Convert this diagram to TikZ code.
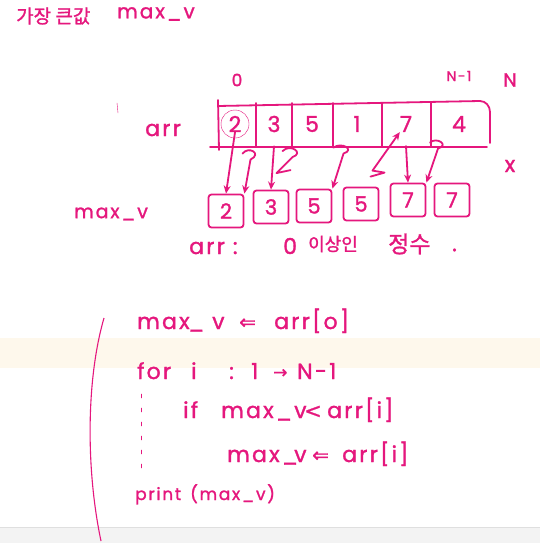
\documentclass[tikz,border=0pt]{standalone}
\usepackage{fontspec}
\setmainfont{Poppins}
\newfontfamily\handfont{Poppins}[FakeBold=1.3, LetterSpace=10]
\newfontfamily\krfont{Noto Sans CJK KR}[FakeBold=1.2]
\newfontfamily\symfont{DejaVu Sans}[FakeBold=1]
\definecolor{pen}{HTML}{E5177D}
\definecolor{hiyellow}{HTML}{FEF8EC}
\definecolor{bargray}{HTML}{F3F3F3}
\usetikzlibrary{arrows.meta, calc, positioning}

\begin{document}
\begin{tikzpicture}[x=1pt, y=-1pt, >={Stealth[length=8pt,width=7pt]},
    ink/.style={pen, line width=1.8pt, line cap=round, line join=round},
    hand/.style={text=pen, font=\handfont\fontsize{22}{24}\selectfont, inner sep=0pt, anchor=west},
    code/.style={hand, anchor=base west},
    cellval/.style={text=pen, font=\handfont\fontsize{22}{24}\selectfont, inner sep=0pt},
    maxbox/.style={draw=pen, line width=1.8pt, rounded corners=3pt, minimum width=35pt,
                   minimum height=33pt, text=pen, font=\handfont\fontsize{21}{22}\selectfont}]
      \useasboundingbox (0,0) rectangle (540,543);
      % Bands of the page
      \fill[white] (0,0) rectangle (540,543);
      \fill[hiyellow] (0,338) rectangle (540,368);
      \fill[bargray] (0,527) rectangle (540,543);
      \draw[gray!25] (0,527) -- (540,527);
      % Title
      \node[hand, font=\krfont\fontsize{19}{22}\selectfont] (title) at (16,16) {가장 큰값};
      \node[hand, font=\handfont\fontsize{20}{22}\selectfont] (titlevar) at (117,14) {max\_v};
      % Index labels
      \node[cellval, font=\handfont\fontsize{17}{18}\selectfont] (idx0) at (237,80) {0};
      \node[cellval, font=\handfont\fontsize{14}{16}\selectfont] (idxlast) at (459,76) {N-1};
      \node[cellval, font=\handfont\fontsize{19}{20}\selectfont] (sizeN) at (510,80) {N};
      \node[cellval, font=\handfont\fontsize{22}{22}\selectfont] (markX) at (510,166) {x};
      \draw[ink, thin] (117,103) -- (118,113);
      % Array
      \node[hand] (arrname) at (145,130) {arr};
      \draw[ink] (218,106) -- (480,101) to[out=0, in=90] (490,112) -- (490,143);
      \draw[ink] (210,147) -- (487,147);
      \draw[ink] (218,100) -- (219,150);
      \foreach \xd in {256,292,333,382,431} {
        \draw[ink] (\xd,103) -- (\xd,146);
      }
      \foreach \cx/\v/\i in {235/2/1, 274/3/2, 312/5/3, 357/1/4, 406/7/5, 459/4/6} {
        \node[cellval] (c\i) at (\cx,124) {\v};
      }
      \draw[pen, thin] (c1) circle (14pt);
      % max_v boxes
      \node[hand, font=\handfont\fontsize{19}{22}\selectfont] (maxname) at (74,214) {max\_v};
      \foreach \bx/\by/\v/\i in {226/211/2/1, 271/207/3/2, 314/206/5/3, 361/204/5/4, 408/200/7/5, 452/200/7/6} {
        \node[maxbox] (b\i) at (\bx,\by) {\v};
      }
      % Copies and comparisons
      \draw[ink, ->] (c1.south) -- (b1.north);
      \draw[ink, ->] (c2.south) ++(0,14) coordinate (s2) (s2) -- (b2.north);
      \draw[ink, ->] (c5.south) ++(0,14) coordinate (s5) (s5) -- (b5.north);
      \draw[ink, ->] ($(b1.north)!0.5!(b2.north)+(-6,-38)$) coordinate (q1)
        (q1) .. controls +(6,-8) and +(12,-6) .. ++(8,6) -- (b1.north east);
      \draw[ink] ($(b2.north)!0.5!(b3.north)+(-10,-38)$) coordinate (q2)
        (q2) .. controls +(8,-8) and +(12,-4) .. ++(10,6) -- ++(-16,16) -- ++(14,-3);
      \draw[ink, ->] ($(b3.north)!0.5!(b4.north)+(-4,-40)$) coordinate (q3)
        (q3) .. controls +(8,-6) and +(12,-4) .. ++(10,6) -- (b3.north east);
      \draw[ink, ->] ($(b4.north)!0.5!(b5.north)+(-14,-8)$) coordinate (q4)
        (q4) -- ++(14,-4) -- ++(-12,-2) -- (c5.south west);
      \draw[ink, ->] ($(b5.north)!0.5!(b6.north)+(0,-40)$) coordinate (q5)
        (q5) .. controls +(6,-6) and +(12,-4) .. ++(8,6) -- (b5.north east);
      % Condition
      \node[hand] (condarr) at (189,248) {arr\hspace{8pt}:};
      \node[hand] (condzero) at (283,246) {0};
      \node[hand, font=\krfont\fontsize{18}{20}\selectfont] (condword) at (308,244) {이상인};
      \node[hand, font=\krfont\fontsize{23}{25}\selectfont] (condint) at (388,244) {정수};
      \node[hand] (condend) at (452,250) {.};
      % Pseudo code
      \draw[pen, line width=1.1pt] (104,318) .. controls (86,380) and (86,470) .. (101,541);
      \node[code] (l1a) at (137,329) {max};
      \node[code] (l1b) at (188,329) {\_};
      \node[code] (l1c) at (212,329) {v};
      \node[code, font=\symfont\fontsize{20}{22}\selectfont] (l1d) at (239,329) {⇐};
      \node[code] (l1e) at (274,329) {arr[o]};
      \node[code] (l2a) at (137,379) {for};
      \node[code] (l2b) at (191,379) {i};
      \node[code] (l2c) at (229,379) {:};
      \node[code] (l2d) at (251,379) {1};
      \node[code, font=\symfont\fontsize{17}{20}\selectfont] (l2e) at (273,378) {→};
      \node[code] (l2f) at (297,379) {N-1};
      \node[code] (l3a) at (183,418) {if};
      \node[code] (l3b) at (221,418) {max\_v};
      \node[code, font=\symfont\fontsize{21}{22}\selectfont] (l3c) at (304,418) {<};
      \node[code] (l3d) at (327,418) {arr[i]};
      \node[code] (l4a) at (227,462) {max\_};
      \node[code] (l4b) at (294,462) {v};
      \node[code, font=\symfont\fontsize{20}{22}\selectfont] (l4c) at (312,462) {⇐};
      \node[code] (l4d) at (342,462) {arr[i]};
      \node[code, font=\handfont\fontsize{17}{22}\selectfont] (l5a) at (135,500) {print};
      \node[code, font=\handfont\fontsize{17}{22}\selectfont] (l5b) at (190,500) {(max\_v)};
      \draw[ink, thin, dash pattern=on 4pt off 10pt] (141,394) -- (141,476);
\end{tikzpicture}
\end{document}
